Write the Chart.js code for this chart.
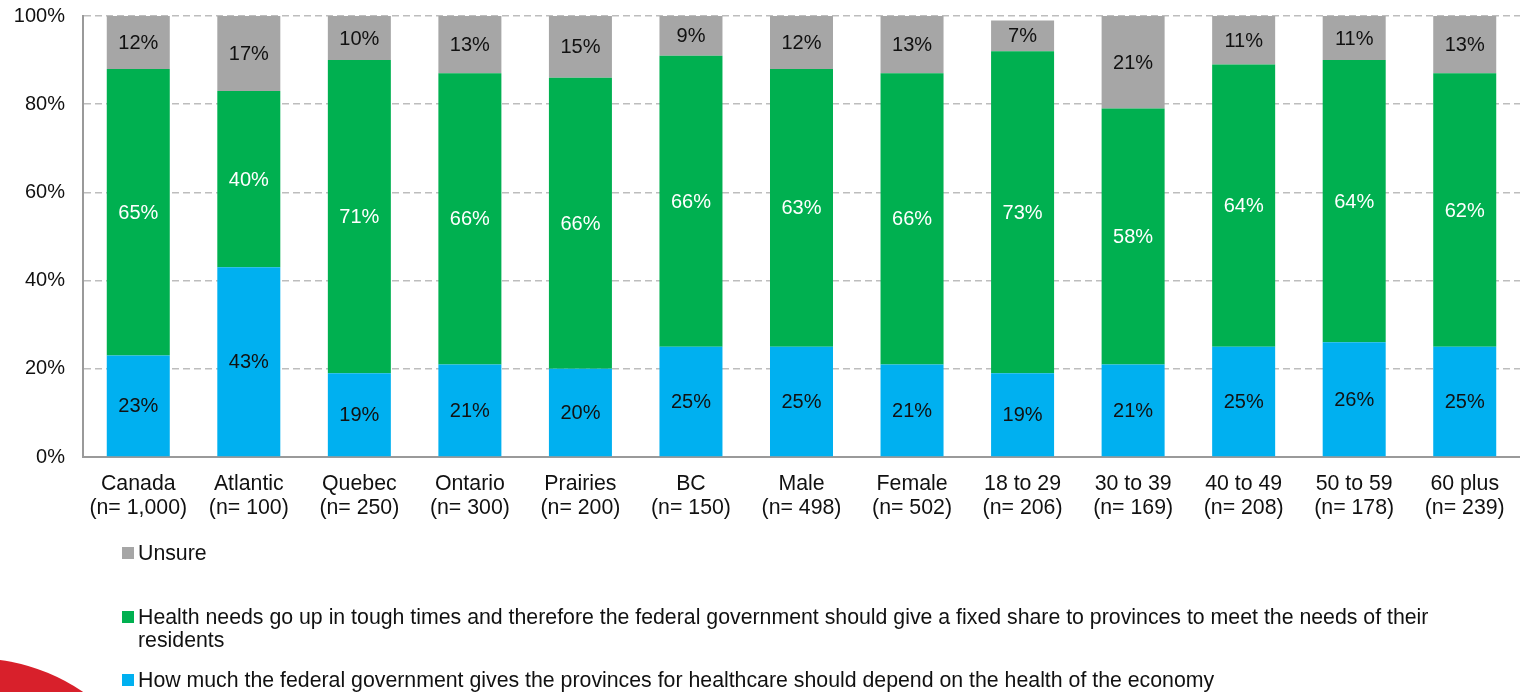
<!DOCTYPE html>
<html>
<head>
<meta charset="utf-8">
<script src="https://cdn.jsdelivr.net/npm/chart.js@4/dist/chart.umd.min.js"></script>
<style>
  html, body { margin: 0; padding: 0; background: #fff; overflow: hidden; }
  #wrap { position: relative; width: 1520px; height: 692px; }
  #chart { position: absolute; left: 0; top: 0; }
  /* red brand swoosh in the lower-left corner */
  #swoosh {
    position: absolute; left: -222px; top: 658px;
    width: 390px; height: 390px; border-radius: 50%;
    background: #d8202b;
  }
</style>
</head>
<body>
<div id="wrap">
  <div id="swoosh"></div>
  <canvas id="chart" width="1520" height="692"></canvas>
</div>
<script>
// Groups and sample sizes
const groups = ['Canada', 'Atlantic', 'Quebec', 'Ontario', 'Prairies', 'BC', 'Male', 'Female',
                '18 to 29', '30 to 39', '40 to 49', '50 to 59', '60 plus'];
const sampleSizes = ['1,000', '100', '250', '300', '200', '150', '498', '502',
                     '206', '169', '208', '178', '239'];

// Share of respondents (%) for each answer
const dependOnEconomy = [23, 43, 19, 21, 20, 25, 25, 21, 19, 21, 25, 26, 25];
const fixedShare      = [65, 40, 71, 66, 66, 66, 63, 66, 73, 58, 64, 64, 62];
const unsure          = [12, 17, 10, 13, 15,  9, 12, 13,  7, 21, 11, 11, 13];

const yTicks = [0, 20, 40, 60, 80, 100];

const seriesNames = [
  'How much the federal government gives the provinces for healthcare should depend on the health of the economy',
  'Health needs go up in tough times and therefore the federal government should give a fixed share to provinces to meet the needs of their residents',
  'Unsure'
];

const FONT = '"Liberation Sans", Arial, Helvetica, sans-serif';
const BLUE = '#00b0f0', GREEN = '#00b050', GREY = '#a6a6a6';

const categoryLabels = groups.map((g, i) => [g, '(n= ' + sampleSizes[i] + ')']);

// Percent labels centred inside every bar segment
const segmentLabels = {
  id: 'segmentLabels',
  afterDatasetsDraw(chart) {
    const ctx = chart.ctx;
    ctx.save();
    ctx.font = '20px ' + FONT;
    ctx.textAlign = 'center';
    ctx.textBaseline = 'middle';
    chart.data.datasets.forEach((ds, di) => {
      const meta = chart.getDatasetMeta(di);
      meta.data.forEach((bar, i) => {
        const v = ds.data[i];
        const top = Math.max(bar.y, chart.chartArea.top);
        const y = (top + bar.base) / 2;
        ctx.fillStyle = ds.labelColor;
        ctx.fillText(v + '%', bar.x, y + 1);
      });
    });
    ctx.restore();
  }
};

// Vertical legend under the plot, listed top series first
const sideLegend = {
  id: 'sideLegend',
  afterDraw(chart) {
    const ctx = chart.ctx;
    ctx.save();
    ctx.font = '21.3px ' + FONT;
    ctx.textBaseline = 'middle';
    const boxX = 122, textX = 138, maxW = 1320, lineH = 23;
    const rows = [553, 617, 680];
    const order = chart.data.datasets.map((d, i) => i).reverse();
    order.forEach((di, r) => {
      const ds = chart.data.datasets[di];
      const y = rows[r];
      ctx.fillStyle = ds.backgroundColor;
      ctx.fillRect(boxX, y - 6, 12, 12);
      // wrap long entries
      const words = ds.label.split(' ');
      const lines = [];
      let line = '';
      words.forEach(w => {
        const test = line ? line + ' ' + w : w;
        if (ctx.measureText(test).width > maxW && line) { lines.push(line); line = w; }
        else line = test;
      });
      lines.push(line);
      ctx.fillStyle = '#111';
      lines.forEach((l, k) => ctx.fillText(l, textX, y + k * lineH + 1));
    });
    ctx.restore();
  }
};

new Chart(document.getElementById('chart'), {
  type: 'bar',
  data: {
    labels: categoryLabels,
    datasets: [
      { label: seriesNames[0], data: dependOnEconomy, backgroundColor: BLUE, labelColor: '#111' },
      { label: seriesNames[1], data: fixedShare, backgroundColor: GREEN, labelColor: '#fff' },
      { label: seriesNames[2], data: unsure, backgroundColor: GREY, labelColor: '#111' }
    ]
  },
  options: {
    responsive: false,
    animation: false,
    events: [],
    layout: { padding: { top: 16, right: 0, bottom: 165, left: 0 } },
    datasets: { bar: { categoryPercentage: 1, barPercentage: 0.57, borderWidth: 0 } },
    plugins: { legend: { display: false }, tooltip: { enabled: false } },
    scales: {
      x: {
        stacked: true,
        grid: { display: false, drawTicks: false },
        border: { display: true, color: '#9a9a9a', width: 2 },
        ticks: { color: '#111', font: { family: FONT, size: 21.3, lineHeight: 1.13 }, padding: 15, maxRotation: 0, autoSkip: false },
        afterFit(scale) { scale.height = 70; }
      },
      y: {
        stacked: true,
        min: 0, max: 100,
        afterBuildTicks(scale) { scale.ticks = yTicks.map(v => ({ value: v })); },
        grid: {
          drawTicks: false,
          color: c => c.tick && c.tick.value === 0 ? 'rgba(0,0,0,0)' : '#bdbdbd',
          lineWidth: 1.5
        },
        border: { display: true, color: '#9a9a9a', width: 2, dash: [7, 4] },
        ticks: { color: '#111', font: { family: FONT, size: 20 }, padding: 18, callback: v => v + '%' },
        afterFit(scale) {
          scale.width = 83;
          // only half a label of room is needed above and below the axis
          scale.paddingTop = 12;
          scale.paddingBottom = 12;
        }
      }
    }
  },
  plugins: [segmentLabels, sideLegend]
});
</script>
</body>
</html>
